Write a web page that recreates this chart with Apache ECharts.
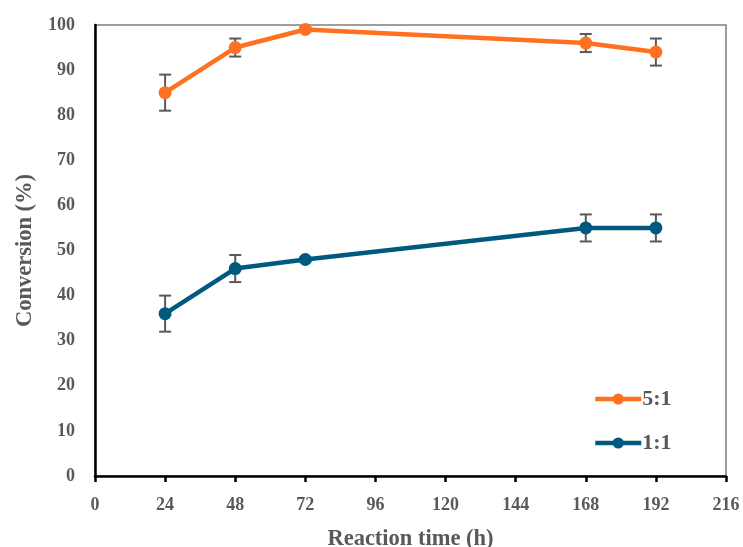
<!DOCTYPE html>
<html>
<head>
<meta charset="utf-8">
<script src="https://cdn.jsdelivr.net/npm/echarts@6/dist/echarts.min.js"></script>
<style>html,body{margin:0;padding:0;background:#fff;}#c{width:743px;height:547px;}</style>
</head>
<body>
<div id="c"></div>
<script>
var times = [24, 48, 72, 168, 192];
var s51 = [85, 95, 99, 96, 94];
var s51err = [4, 2, 0.5, 2, 3];
var s11 = [36, 46, 48, 55, 55];
var s11err = [4, 3, 0.5, 3, 3];
var seriesNames = ['5:1', '1:1'];

var FONT = '"Liberation Serif", "DejaVu Serif", serif';
var GRAY = '#595959';

function pts(v) { return times.map(function (t, i) { return [t, v[i]]; }); }
function errData(v, e) { return times.map(function (t, i) { return [t, v[i] - e[i], v[i] + e[i]]; }); }
function errRender(params, api) {
  var x = api.value(0);
  var lo = api.coord([x, api.value(1)]);
  var hi = api.coord([x, api.value(2)]);
  var hw = 6;
  var st = { stroke: GRAY, lineWidth: 2 };
  return { type: 'group', children: [
    { type: 'line', shape: { x1: lo[0], y1: lo[1], x2: hi[0], y2: hi[1] }, style: st },
    { type: 'line', shape: { x1: lo[0] - hw, y1: lo[1], x2: lo[0] + hw, y2: lo[1] }, style: st },
    { type: 'line', shape: { x1: hi[0] - hw, y1: hi[1], x2: hi[0] + hw, y2: hi[1] }, style: st }
  ]};
}

var chart = echarts.init(document.getElementById('c'));
chart.setOption({
  animation: false,
  backgroundColor: '#fff',
  grid: { left: 95, right: 17, top: 25, bottom: 71, show: true, borderColor: '#7f7f7f', borderWidth: 1.5,
          containLabel: false, outerBoundsMode: 'none' },
  legend: {
    orient: 'vertical', left: 588, top: 383, itemWidth: 46, itemHeight: 14, itemGap: 22,
    data: seriesNames,
    lineStyle: { width: 4.5 },
    textStyle: { fontFamily: FONT, fontWeight: 'bold', fontSize: 22, color: GRAY, padding: [0, 0, 0, -4] }
  },
  xAxis: {
    type: 'value', min: 0, max: 216, interval: 24,
    name: 'Reaction time (h)', nameLocation: 'middle', nameGap: 52,
    nameTextStyle: { fontFamily: FONT, fontWeight: 'bold', fontSize: 22.5, color: GRAY },
    axisLine: { lineStyle: { color: '#000', width: 2.5 } },
    axisTick: { show: true, length: 6, lineStyle: { color: '#000', width: 2.5 } },
    axisLabel: { fontFamily: FONT, fontWeight: 'bold', fontSize: 18, color: GRAY, margin: 20 },
    splitLine: { show: false }
  },
  yAxis: {
    type: 'value', min: 0, max: 100, interval: 10,
    name: 'Conversion (%)', nameLocation: 'middle', nameGap: 57, nameRotate: 90,
    nameTextStyle: { fontFamily: FONT, fontWeight: 'bold', fontSize: 22.5, color: GRAY },
    axisLine: { show: true, lineStyle: { color: '#000', width: 2.5 } },
    axisTick: { show: false },
    axisLabel: { fontFamily: FONT, fontWeight: 'bold', fontSize: 18, color: GRAY, margin: 20 },
    splitLine: { show: false }
  },
  series: [
    { type: 'custom', renderItem: errRender, data: errData(s51, s51err), z: 1, silent: true },
    { type: 'custom', renderItem: errRender, data: errData(s11, s11err), z: 1, silent: true },
    { name: seriesNames[0], type: 'line', data: pts(s51), symbol: 'circle', symbolSize: 13,
      lineStyle: { color: '#FF7020', width: 4.5 }, itemStyle: { color: '#FF7020' }, z: 3 },
    { name: seriesNames[1], type: 'line', data: pts(s11), symbol: 'circle', symbolSize: 13,
      lineStyle: { color: '#005A80', width: 4.5 }, itemStyle: { color: '#005A80' }, z: 3 }
  ]
});
</script>
</body>
</html>
